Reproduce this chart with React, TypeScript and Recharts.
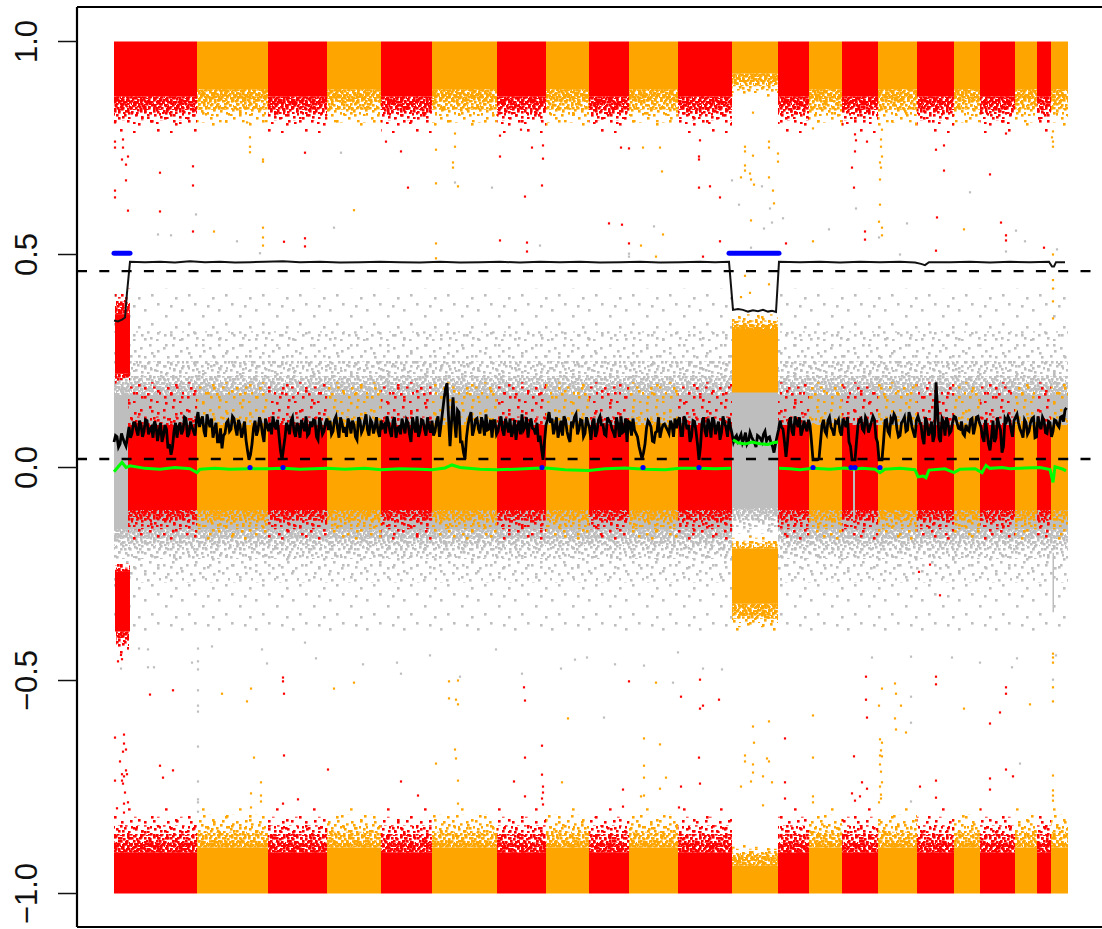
import React from "react";
import { ComposedChart, Line, Scatter, XAxis, YAxis, ReferenceArea, ReferenceLine } from "recharts";

const W = 1102, H = 929;
const X_MIN = 77, X_MAX = 1102, Y_MAX = 1.081, Y_MIN = -1.0786;
const yTicks = [-1, -0.5, 0, 0.5, 1];
const RED = "#ff0000", ORANGE = "#ffa500", GRAY = "#bebebe", BLUE = "#0000ff", GREEN = "#00ff00";

// Alternating chromosome spans along the position axis.
const chromStarts = [114, 197, 268, 327, 381, 432, 497, 546, 589, 629, 678, 732, 778, 809, 842, 878, 917, 954, 980, 1015, 1037, 1051];
const chromEnds = [197, 268, 327, 381, 432, 497, 546, 589, 629, 678, 732, 778, 809, 842, 878, 917, 954, 980, 1015, 1037, 1051, 1068];
const SPECIAL = 11; // the chromosome with a shifted profile
const colorOf = (i: number) => (i % 2 === 0 ? RED : ORANGE);

// Cumulative texture limits: [solid edge, edge of textures E, D, C, B, A]
const topRed = [0.871, 0.845, 0.83, 0.815, 0.8, 0.785];
const topOrange = [0.888, 0.86, 0.84, 0.825, 0.81, 0.8];
const topSpecial = [0.925, 0.905, 0.895, 0.885, 0.875, 0.87];
const botRed = [-0.904, -0.88, -0.86, -0.84, -0.82, -0.8];
const botOrange = [-0.892, -0.875, -0.855, -0.835, -0.815, -0.8];
const botSpecial = [-0.935, -0.915, -0.905, -0.895, -0.89, -0.885];
const midUpColor = [0.1, 0.1, 0.1, 0.12, 0.19, 0.2];
const midLowColor = [-0.1, -0.11, -0.125, -0.145, -0.16, -0.172];
const grayUp = [0.17, 0.195, 0.215, 0.25, 0.32, 0.42];
const grayLow = [-0.145, -0.165, -0.185, -0.215, -0.27, -0.39];
const specialUp = [0.325, 0.335, 0.345, 0.352, 0.36, 0.365];
const specialUpIn = [0.176, 0.176];
const specialLow = [-0.32, -0.345, -0.355, -0.365, -0.375, -0.385];
const specialLowTop = [-0.19, -0.185, -0.178, -0.172, -0.165, -0.16];
const specialGrayLow = [-0.095, -0.11, -0.125, -0.145, -0.155, -0.165];
const clusterUp = [0.36, 0.375, 0.39, 0.4, 0.41, 0.42];
const clusterUpBot = [0.22, 0.215, 0.21, 0.205, 0.2, 0.195];
const clusterLow = [-0.385, -0.395, -0.41, -0.42, -0.43, -0.445];
const clusterLowTop = [-0.245, -0.24, -0.235, -0.23, -0.225, -0.215];

// Texture tiles: stippled density for point clouds too dense to read one by one.
const DOT = 2.6;
const tiles: { id: string; w: number; h: number; dots: number[][] }[] = [
  { id: "E", w: 11, h: 7, dots: [[0, 0], [5, 1], [8, 3], [2, 3], [6, 5], [10, 5], [1, 6], [4, 3]] },
  { id: "D", w: 13, h: 11, dots: [[1, 1], [6, 2], [10, 0], [3, 4], [8, 5], [12, 6], [0, 8], [5, 8], [10, 9], [3, 10]] },
  { id: "C", w: 19, h: 17, dots: [[1, 2], [8, 1], [15, 4], [4, 7], [11, 8], [17, 10], [2, 12], [8, 14], [14, 15], [6, 4]] },
  { id: "B", w: 23, h: 31, dots: [[2, 6], [11, 3], [19, 9], [6, 15], [15, 14], [21, 20], [3, 24], [12, 27], [9, 21], [18, 29]] },
  { id: "A", w: 37, h: 29, dots: [[3, 4], [27, 7], [33, 19], [9, 13], [17, 25], [22, 15]] },
];
const colorNames: [string, string][] = [["red", RED], ["orange", ORANGE], ["gray", GRAY]];
const nameOf = (c: string) => (c === RED ? "red" : c === ORANGE ? "orange" : "gray");

// Outliers, [position, value].
const redPoints: number[][] = [
  [115, 0.81], [115, 0.765], [115, 0.751], [123, 0.77], [123, 0.751], [122, 0.723], [128, 0.73], [126, 0.711], [126, 0.674], [115, 0.65], [115, 0.634], [128, 0.603],
  [160, 0.692], [193, 0.707], [193, 0.662], [160, 0.601], [193, 0.554], [284, 0.53], [305, 0.739], [305, 0.538], [305, 0.519], [386, 0.765],
  [401, 0.742], [408, 0.657], [500, 0.779], [500, 0.73], [532, 0.751], [543, 0.756], [543, 0.725], [542, 0.662], [525, 0.636], [500, 0.533], [527, 0.528], [527, 0.507],
  [621, 0.751], [629, 0.749], [609, 0.573], [622, 0.57], [629, 0.526], [700, 0.768], [699, 0.73], [699, 0.723], [699, 0.657], [710, 0.66], [720, 0.634], [720, 0.531], [703, 0.495], [521, 0.793],
  [855, 0.782], [856, 0.768], [867, 0.765], [855, 0.742], [852, 0.704], [854, 0.657], [865, 0.554], [865, 0.535], [786, 0.526], [937, 0.587], [936, 0.509], [936, 0.746], [944, 0.756], [944, 0.697], [990, 0.688], [1006, 0.784], [1001, 0.575], [1006, 0.545], [1006, 0.533], [1044, 0.516],
  [524, -0.516], [525, -0.547], [629, -0.502], [700, -0.498], [681, -0.538], [719, -0.545], [703, -0.559], [700, -0.566], [542, -0.653], [525, -0.681], [699, -0.681], [401, -0.737], [418, -0.77], [514, -0.737], [542, -0.721], [543, -0.749], [543, -0.763], [525, -0.772], [542, -0.777], [543, -0.791], [681, -0.749], [700, -0.742], [623, -0.756], [623, -0.796], [679, -0.798],
  [866, -0.491], [866, -0.545], [867, -0.587], [785, -0.636], [854, -0.678], [785, -0.739], [785, -0.777], [862, -0.739], [867, -0.754], [852, -0.765], [860, -0.772], [855, -0.782], [936, -0.491], [936, -0.509], [1006, -0.516], [1006, -0.531], [1000, -0.575], [990, -0.601], [1006, -0.709], [1013, -0.725], [990, -0.73], [936, -0.735], [990, -0.756], [920, -0.749], [936, -0.775],
  [115, -0.634], [124, -0.627], [124, -0.648], [126, -0.662], [123, -0.667], [150, -0.533], [173, -0.523], [283, -0.493], [283, -0.502], [284, -0.531], [284, -0.676], [160, -0.7], [163, -0.728], [173, -0.711], [126, -0.711], [124, -0.725], [115, -0.735], [123, -0.742], [125, -0.763], [124, -0.789], [128, -0.786], [328, -0.709], [283, -0.789], [298, -0.779],
  [120, -0.69], [122, -0.72], [127, -0.72], [122, -0.735], [117, -0.8], [124, -0.81], [118, -0.455], [122, -0.45], [121, -0.44],
  [919, -0.245], [940, -0.3], [930, -0.228],
];
const orangePoints: number[][] = [
  [247, 0.81], [250, 0.775], [250, 0.753], [250, 0.74], [263, 0.723], [263, 0.718], [263, 0.563], [263, 0.54], [263, 0.521], [214, 0.554], [354, 0.604],
  [436, 0.746], [455, 0.753], [455, 0.784], [453, 0.716], [453, 0.704], [436, 0.667], [458, 0.66], [436, 0.526], [436, 0.491], [643, 0.751], [660, 0.751], [662, 0.695], [663, 0.547], [641, 0.521], [656, 0.495],
  [753, 0.833], [769, 0.765], [745, 0.753], [745, 0.742], [753, 0.732], [769, 0.751], [778, 0.737], [778, 0.718], [745, 0.709], [745, 0.697], [750, 0.69], [741, 0.681], [751, 0.676], [754, 0.664], [769, 0.681], [773, 0.65], [774, 0.62], [751, 0.58], [813, 0.531], [813, 0.796],
  [882, 0.793], [881, 0.77], [881, 0.753], [882, 0.73], [880, 0.716], [881, 0.704], [880, 0.676], [880, 0.617], [879, 0.577], [882, 0.563], [882, 0.545], [964, 0.559], [1053, 0.5], [1053, 0.765], [1053, 0.753], [1053, 0.789], [1052, 0.775],
  [449, -0.502], [458, -0.5], [449, -0.542], [456, -0.545], [458, -0.556], [568, -0.589], [656, -0.505], [455, -0.662], [456, -0.683], [436, -0.695], [458, -0.735], [458, -0.789], [644, -0.636], [660, -0.65], [644, -0.7], [644, -0.728], [666, -0.728], [660, -0.754], [644, -0.77], [641, -0.772], [562, -0.739],
  [895, -0.507], [882, -0.519], [896, -0.531], [879, -0.559], [901, -0.559], [895, -0.589], [896, -0.615], [906, -0.622], [769, -0.596], [753, -0.608], [754, -0.646], [813, -0.582], [813, -0.681], [745, -0.676], [745, -0.69], [767, -0.683], [769, -0.69], [753, -0.697], [753, -0.716], [763, -0.725], [751, -0.737], [772, -0.739], [741, -0.749], [763, -0.793], [813, -0.772], [813, -0.786], [964, -0.566], [1030, -0.556],
  [1053, -0.437], [1053, -0.446], [1053, -0.458], [1053, -0.516], [1053, -0.549], [1053, -0.723], [1053, -0.758], [1053, -0.77], [1053, -0.782],
  [880, -0.638], [882, -0.646], [881, -0.664], [880, -0.676], [882, -0.678], [880, -0.697], [881, -0.714], [882, -0.739], [880, -0.749], [881, -0.768], [881, -0.777], [879, -0.786],
  [222, -0.531], [251, -0.519], [247, -0.549], [334, -0.519], [354, -0.505], [254, -0.681], [261, -0.739], [251, -0.765], [261, -0.77], [261, -0.784], [251, -0.798],
  [745, 0.45], [750, 0.41], [741, 0.4], [769, 0.43], [1053, 0.44], [1053, 0.42], [1053, 0.39], [1053, 0.35],
];
const grayPoints: number[][] = [
  [196, 0.594], [158, 0.547], [171, 0.545], [237, 0.531], [260, 0.503], [341, 0.739], [334, 0.563], [455, 0.669], [492, 0.657], [540, 0.521], [654, 0.566], [629, 0.502], [629, 0.495], [732, 0.674], [739, 0.617],
  [762, 0.66], [770, 0.608], [772, 0.575], [783, 0.585], [764, 0.561], [829, 0.559], [856, 0.608], [879, 0.54], [907, 0.573], [900, 0.5], [970, 0.646], [1016, 0.556], [1025, 0.531], [1006, 0.507], [1057, 0.512], [751, 0.516],
  [397, -0.458], [430, -0.441], [401, -0.484], [460, -0.491], [522, -0.484], [561, -0.472], [575, -0.451], [587, -0.446], [615, -0.462], [644, -0.465], [673, -0.505], [678, -0.434], [703, -0.472], [722, -0.474], [604, -0.587], [496, -0.427],
  [872, -0.446], [911, -0.444], [952, -0.446], [980, -0.458], [1017, -0.448], [1012, -0.469], [1056, -0.441], [1053, -0.498], [911, -0.538], [911, -0.599], [1020, -0.695], [911, -0.784],
  [198, -0.425], [212, -0.42], [148, -0.427], [139, -0.425], [192, -0.458], [198, -0.455], [198, -0.474], [148, -0.469], [154, -0.469], [121, -0.472], [267, -0.46], [316, -0.448], [363, -0.462], [305, -0.411], [262, -0.427], [198, -0.523], [198, -0.559], [198, -0.573], [198, -0.655], [198, -0.737], [198, -0.779], [198, -0.786], [198, -0.808],
];
const bluePoints: number[][] = [[250, 0], [283, 0], [542, 0], [643, 0], [699, 0], [813, 0], [851, 0], [855, 0], [880, 0]];

// The thin upper profile.
const thinProfile: number[][] = [
  [114, 0.345], [118, 0.343], [122, 0.347], [125, 0.352], [127, 0.41], [130, 0.483], [145, 0.482], [160, 0.483], [175, 0.481], [190, 0.484], [205, 0.482], [220, 0.483], [235, 0.481], [250, 0.482], [265, 0.483], [283, 0.484], [300, 0.482], [320, 0.483], [340, 0.481], [360, 0.482], [380, 0.483], [400, 0.482], [420, 0.481], [440, 0.483], [460, 0.481], [480, 0.482], [500, 0.483], [520, 0.481], [540, 0.483], [560, 0.482], [580, 0.483], [600, 0.481], [620, 0.482], [640, 0.483], [660, 0.481], [680, 0.482], [700, 0.483], [715, 0.482], [729, 0.483],
  [733, 0.37], [738, 0.372], [743, 0.37], [748, 0.366], [753, 0.369], [758, 0.367], [763, 0.37], [768, 0.366], [772, 0.368], [776, 0.365], [779, 0.483],
  [800, 0.482], [820, 0.483], [840, 0.481], [860, 0.483], [880, 0.482], [900, 0.483], [915, 0.481], [921, 0.478], [925, 0.475], [929, 0.482], [950, 0.482], [970, 0.483], [990, 0.481], [1010, 0.483], [1030, 0.482], [1049, 0.483], [1052, 0.472], [1054, 0.472], [1056, 0.482], [1065, 0.482],
];

// The noisy profile, in thousandths: two interleaved readings, every 1.5 positions from NOISY_START.
const NOISY_START = 114, NOISY_STEP = 3;
const noisyValues = [
  60, 72, 55, 68, 50,
  95, 80, 105, 75, 100, 85, 110, 90, 70, 98, 85, 60, 100, 45, 30, 85, 70, 105, 88, 115, 80, 95, 75,
  130, 110, 85, 125, 95, 70, 105, 60, 45, 80, 110, 90, 115, 75, 100, 85, 65, 18, 55, 110, 88, 105, 60, 100,
  105, 120, 90, 75, 18, 70, 95, 110, 85, 105, 70, 100, 120, 80, 95, 110, 65, 100, 85, 115,
  110, 85, 120, 70, 105, 95, 115, 80, 100, 65, 110, 90, 125, 75, 105, 95, 85, 110,
  100, 120, 85, 110, 70, 95, 115, 80, 105, 60, 100, 120, 85, 110, 75, 95,
  110, 85, 120, 100, 160, 198, 50, 165, 70, 130, 60, 20, 100, 130, 90,
  115, 80, 105, 125, 90, 70, 110, 85, 120, 75,
  100, 115, 85, 65, 110, 125, 95, 70, 115, 90, 105, 75, 18, 100, 130, 115, 95, 70, 110, 120, 85, 60, 100, 125, 90, 110, 80, 105, 65, 115, 85, 120, 100, 75, 110, 90, 70, 100, 120, 85, 60, 105, 115, 80, 50, 20, 55, 110, 95, 60, 85, 70, 100, 95, 80, 100, 115, 110, 75, 120, 90, 60, 110, 85, 18, 105, 85, 115, 70, 110, 95, 65, 120, 95, 115,
  80, 70, 62, 78, 68, 55, 82, 65, 48, 72, 60, 85, 70, 58, 35, 72,
  110, 90, 25, 105, 85, 120, 95, 75, 110, 85, 100, 18, 18, 20, 100, 85, 110, 95, 75, 105, 85, 115, 95, 60, 18, 18, 100, 115, 85, 110, 95, 120, 70, 18, 18, 110, 85, 115, 125, 90, 75, 110, 85, 130, 95, 70, 120, 100, 55, 105, 85, 60, 200, 70, 115, 75, 105, 85, 120, 105, 90, 80, 100, 85, 115, 95, 120, 95, 60, 85, 40, 110, 70, 100, 35, 115, 120, 90, 110, 125, 90, 70, 105, 85, 115, 70, 120, 90, 110, 80, 105, 85, 110, 95, 120, 135,
];
const noisyValuesB = [
  75, 48, 80, 58, 72,
  70, 105, 88, 110, 72, 112, 78, 95, 108, 62, 105, 75, 90, 55, 48, 105, 95, 78, 118, 72, 108, 85, 112,
  95, 120, 72, 108, 115, 88, 60, 92, 75, 105, 85, 120, 92, 112, 70, 108, 40, 30, 92, 75, 118, 78, 115, 85,
  78, 100, 112, 40, 45, 105, 78, 118, 72, 95, 112, 85, 75, 108, 112, 72, 118, 78, 105, 88,
  78, 112, 92, 118, 82, 72, 105, 110, 72, 118, 82, 108, 88, 112, 80, 118, 72, 95,
  80, 105, 72, 118, 92, 78, 100, 112, 78, 118, 82, 72, 112, 90, 118, 82,
  75, 108, 72, 130, 185, 120, 105, 110, 135, 60, 35, 70, 118, 75, 112,
  90, 118, 75, 88, 112, 110, 78, 105, 88, 115,
  82, 72, 112, 95, 78, 88, 118, 100, 92, 78, 60, 45, 60, 112, 105, 78, 118, 88, 75, 112, 70, 108, 118, 78, 112, 72, 118, 92, 105, 72, 112, 100, 78, 118, 105, 82, 118, 72, 82, 115, 108, 75, 88, 72, 35, 35, 92, 105, 62, 82, 118, 88, 102, 88, 110, 72, 92, 118, 75, 112, 100, 72, 108, 55, 50, 118, 72, 102, 118, 78, 108, 82, 105, 72, 95,
  60, 75, 70, 58, 82, 62, 72, 58, 75, 68, 78, 62, 72, 50, 55, 88,
  95, 60, 60, 118, 75, 108, 118, 88, 95, 112, 60, 18, 18, 60, 112, 78, 118, 88, 108, 112, 75, 105, 118, 50, 18, 60, 112, 90, 118, 82, 108, 112, 60, 18, 60, 112, 78, 108, 118, 72, 105, 118, 88, 118, 82, 112, 108, 70, 118, 75, 108, 75, 140, 60, 108, 118, 80, 105, 118, 92, 108, 75, 88, 112, 78, 118, 105, 72, 112, 55, 72, 60, 118, 88, 50, 108, 112, 72, 118, 105, 82, 112, 78, 105, 118, 72, 100, 118, 82, 108, 72, 112, 100, 118, 108, 140,
];

const greenLeft: number[][] = [
  [114, -0.01], [118, 0.001], [122, 0.012], [126, 0.0], [130, 0.004], [145, -0.002], [160, -0.004], [175, 0.0], [190, -0.003], [197, -0.012], [200, -0.004], [215, -0.002], [230, -0.004], [250, -0.003], [268, -0.003], [283, -0.002], [300, -0.004], [327, -0.002], [345, -0.004], [365, -0.002], [381, -0.005], [400, -0.003], [420, -0.004], [432, -0.005], [445, -0.001], [452, 0.006], [460, 0.0], [480, -0.004], [497, -0.005], [515, -0.004], [535, -0.002], [546, -0.001], [565, -0.005], [589, -0.007], [605, -0.003], [625, -0.001], [645, -0.004], [665, -0.005], [680, -0.002], [699, -0.002], [715, -0.003], [731, -0.002],
];
const greenMiddle: number[][] = [[733, 0.065], [738, 0.058], [745, 0.055], [752, 0.06], [760, 0.056], [768, 0.054], [773, 0.058], [778, 0.06]];
const greenRight: number[][] = [
  [779, -0.002], [790, -0.003], [800, -0.005], [813, -0.002], [830, -0.004], [845, -0.001], [853, -0.004], [862, -0.002], [875, -0.004], [880, -0.012], [885, -0.004], [900, -0.002], [915, -0.005], [918, -0.022], [923, -0.02], [926, -0.024], [929, -0.006], [945, -0.003], [954, -0.012], [960, -0.004], [975, -0.003], [982, -0.012], [986, 0.005], [990, -0.002], [1002, 0.0], [1010, -0.003], [1025, -0.001], [1040, 0.0], [1050, -0.005], [1053, -0.035], [1055, 0.002], [1063, -0.004], [1066, -0.008],
];
const bluePieces: number[][][] = [
  [[114, 0.503], [130, 0.503]],
  [[729, 0.503], [779, 0.503]],
];

const toPts = (a: number[][]) => a.map(([x, y]) => ({ x, y }));
const noisyPts = noisyValues.flatMap((v, i) => {
  const first = { x: NOISY_START + i * NOISY_STEP, y: v / 1000 };
  const b = noisyValuesB[i];
  return b === undefined ? [first] : [first, { x: first.x + NOISY_STEP / 2, y: b / 1000 }];
});

const square = (fill: string, s = 2.2) => (p: any) => (
  <rect x={p.cx - s / 2} y={p.cy - s / 2} width={s} height={s} fill={fill} />
);

const AxisTick = ({ y, payload }: any) => {
  const v = payload.value as number;
  const label = (v < 0 ? "\u2212" : "") + Math.abs(v).toFixed(1);
  return (
    <text x={37} y={y} transform={`rotate(-90 37 ${y})`} textAnchor="middle" fontFamily="'Liberation Sans'" fontSize={31} fill="#111">
      {label}
    </text>
  );
};

let keyN = 0;
const solid = (x1: number, x2: number, y1: number, y2: number, fill: string) => (
  <ReferenceArea key={keyN++} x1={x1} x2={x2} y1={y1} y2={y2} fill={fill} fillOpacity={1} stroke="none" ifOverflow="visible" />
);
// limits: index 0 is the solid edge, 1..5 are how far textures E, D, C, B, A reach.
const fringe = (x1: number, x2: number, limits: number[], color: string) =>
  tiles
    .filter((_, k) => limits[k + 1] !== limits[0])
    .map((t) => {
      const k = tiles.indexOf(t);
      return (
        <ReferenceArea key={keyN++} x1={x1} x2={x2} y1={limits[0]} y2={limits[k + 1]}
          fill={`url(#pat-${nameOf(color)}-${t.id})`} fillOpacity={1} stroke="none" ifOverflow="visible" />
      );
    });
const band = (x1: number, x2: number, solidFrom: number, limits: number[], color: string) => [
  solid(x1, x2, solidFrom, limits[0], color),
  ...fringe(x1, x2, limits, color),
];

const grayLayers = [
  ...fringe(114, 732, grayUp, GRAY),
  ...fringe(778, 1068, grayUp, GRAY),
  ...fringe(114, 732, grayLow, GRAY),
  ...fringe(778, 1068, grayLow, GRAY),
  solid(114, 732, grayUp[0], grayLow[0], GRAY),
  solid(778, 1068, grayUp[0], grayLow[0], GRAY),
  ...band(732, 778, 0.18, specialGrayLow, GRAY),
  solid(1052.5, 1054, -0.2, -0.34, GRAY),
];

const colorLayers = chromStarts.flatMap((start, i) => {
  const end = chromEnds[i];
  const c = colorOf(i);
  if (i === SPECIAL) {
    return [
      ...band(start, end, 1, topSpecial, c),
      ...band(start, end, -1, botSpecial, c),
      ...band(start, end, specialUpIn[0], specialUp, c),
      solid(start, end, specialLowTop[0], specialLow[0], c),
      ...fringe(start, end, specialLow, c),
      ...fringe(start, end, specialLowTop, c),
    ];
  }
  const midStart = i === 0 ? 128 : start;
  return [
    ...band(start, end, 1, c === RED ? topRed : topOrange, c),
    ...band(start, end, -1, c === RED ? botRed : botOrange, c),
    solid(midStart, end, midUpColor[0], midLowColor[0], c),
    ...fringe(midStart, end, midUpColor, c),
    ...fringe(midStart, end, midLowColor, c),
  ];
});

const clusterLayers = [
  solid(115, 130, clusterUp[0], clusterUpBot[0], RED),
  ...fringe(115, 130, clusterUp, RED),
  ...fringe(115, 130, clusterUpBot, RED),
  solid(115, 130, clusterLow[0], clusterLowTop[0], RED),
  ...fringe(116, 129, clusterLow, RED),
  ...fringe(115, 130, clusterLowTop, RED),
  solid(853, 855, 0.0, -0.125, GRAY),
];

export default function App() {
  return (
    <div style={{ position: "absolute", left: 0, top: 0, width: W, height: H, background: "#fff" }}>
      <ComposedChart width={W} height={H} margin={{ top: 7, right: 0, bottom: 2, left: 0 }}>
        <defs>
          {colorNames.flatMap(([name, col]) =>
            tiles.map((t) => (
              <pattern key={name + t.id} id={`pat-${name}-${t.id}`} patternUnits="userSpaceOnUse" width={t.w} height={t.h}>
                {t.dots.map(([dx, dy], j) => (
                  <rect key={j} x={dx} y={dy} width={DOT} height={DOT} fill={col} />
                ))}
              </pattern>
            ))
          )}
        </defs>
        <XAxis type="number" dataKey="x" domain={[X_MIN, X_MAX]} hide allowDataOverflow />
        <YAxis type="number" dataKey="y" domain={[Y_MIN, Y_MAX]} ticks={yTicks} width={77} interval={0} allowDataOverflow
          tick={<AxisTick />} tickSize={19} tickLine={{ stroke: "#111", strokeWidth: 1.5 }} axisLine={{ stroke: "#000", strokeWidth: 2.2 }} />
        {grayLayers}
        {colorLayers}
        {clusterLayers}
        <Scatter data={toPts(grayPoints)} dataKey="y" isAnimationActive={false} shape={square(GRAY)} />
        <Scatter data={toPts(redPoints)} dataKey="y" isAnimationActive={false} shape={square(RED)} />
        <Scatter data={toPts(orangePoints)} dataKey="y" isAnimationActive={false} shape={square(ORANGE)} />
        <Line data={toPts(thinProfile)} dataKey="y" type="linear" dot={false} stroke="#111" strokeWidth={2} isAnimationActive={false} />
        <Line data={noisyPts} dataKey="y" type="linear" dot={false} stroke="#000" strokeWidth={2.8} strokeLinejoin="miter" isAnimationActive={false} />
        <ReferenceLine y={0.461} stroke="#000" strokeWidth={2.4} strokeDasharray="10 12.3" ifOverflow="visible" />
        <ReferenceLine y={0.02} stroke="#000" strokeWidth={2.4} strokeDasharray="10 12.3" ifOverflow="visible" />
        <ReferenceLine y={Y_MAX} stroke="#000" strokeWidth={2.2} ifOverflow="visible" />
        <ReferenceLine y={Y_MIN} stroke="#000" strokeWidth={2.2} ifOverflow="visible" />
        <Line data={toPts(greenLeft)} dataKey="y" type="linear" dot={false} stroke={GREEN} strokeWidth={3} isAnimationActive={false} />
        <Line data={toPts(greenMiddle)} dataKey="y" type="linear" dot={false} stroke={GREEN} strokeWidth={3} isAnimationActive={false} />
        <Line data={toPts(greenRight)} dataKey="y" type="linear" dot={false} stroke={GREEN} strokeWidth={3} isAnimationActive={false} />
        {bluePieces.map((piece, i) => (
          <Line key={i} data={toPts(piece)} dataKey="y" type="linear" dot={false} stroke={BLUE} strokeWidth={5} strokeLinecap="round" isAnimationActive={false} />
        ))}
        <Scatter data={toPts(bluePoints)} dataKey="y" isAnimationActive={false} fill={BLUE} shape={(p: any) => <circle cx={p.cx} cy={p.cy} r={2.6} fill={BLUE} />} />
      </ComposedChart>
    </div>
  );
}
